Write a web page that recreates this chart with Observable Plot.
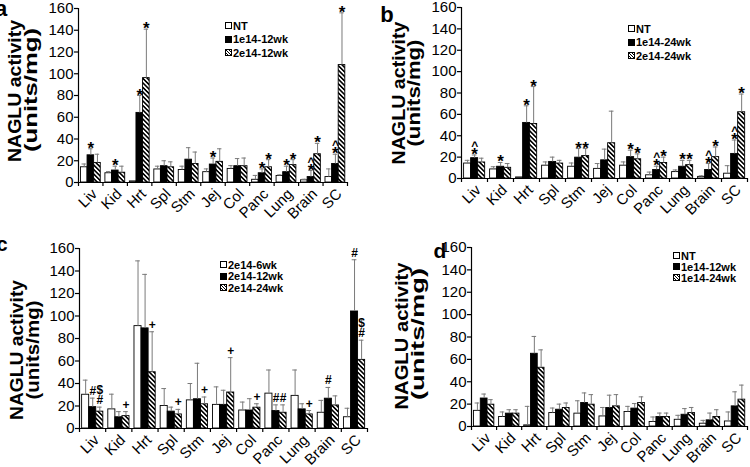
<!DOCTYPE html>
<html><head><meta charset="utf-8">
<script src="https://cdn.jsdelivr.net/npm/d3@7"></script>
<script src="https://cdn.jsdelivr.net/npm/@observablehq/plot@0.6"></script>
<style>
body{margin:0;background:#fff;}
#wrap{position:relative;width:750px;height:467px;overflow:hidden;font-family:"Liberation Sans",Arial,sans-serif;background:#fff;}
.panel{position:absolute;}
.legend{position:absolute;font:bold 11px "Liberation Sans",Arial,sans-serif;color:#000;}
.legend .row{display:flex;align-items:center;white-space:nowrap;}
.sw{width:5px;height:5px;border:1px solid #000;margin-right:1px;flex:none;}
.sw0{background:#fff;}
.sw1{background:#000;}
.sw2{background:repeating-linear-gradient(45deg,#fff 0 1px,#000 1px 2px);}
</style></head>
<body>
<svg width="0" height="0" style="position:absolute">
  <defs>
    <pattern id="hatch" patternUnits="userSpaceOnUse" width="3.2" height="3.2" patternTransform="rotate(-45)">
      <rect width="3.2" height="3.2" fill="white"/><rect width="1.6" height="3.2" fill="black"/>
    </pattern>
  </defs>
</svg>
<div id="wrap"></div>
<script>
const categories = ["Liv","Kid","Hrt","Spl","Stm","Jej","Col","Panc","Lung","Brain","SC"];
const yTicks = [0,20,40,60,80,100,120,140,160];

// Panel a
const seriesA = ["NT","1e14-12wk","2e14-12wk"];
const meanA_NT   = [14, 8.5, 1, 12, 11.5, 9.5, 12.5, 2.5, 6, 2, 5];
const sdA_NT     = [3, 1.5, 0, 3, 3.5, 3, 3, 4, 1, 1, 7.5];
const meanA_1e14 = [25, 11, 64, 15, 21, 16.5, 15, 8.5, 9.5, 5, 17];
const sdA_1e14   = [6, 4, 16, 5, 11, 6, 7, 4, 5.5, 6, 9];
const meanA_2e14 = [18, 9, 96, 14, 17, 19, 15, 14, 16, 26, 108];
const sdA_2e14   = [8, 6, 45, 5, 11, 12, 7.5, 7, 5, 10, 48];
const annA = [["Liv",1,"*",0],["Kid",1,"*",0],["Hrt",1,"*",0],["Hrt",2,"*",0],["Jej",1,"*",0],
  ["Panc",1,"*",0],["Panc",2,"*",0],["Lung",1,"*",0],["Lung",2,"*",0],
  ["Brain",1,"*",0],["Brain",1,"^",1],["Brain",2,"*",0],["SC",1,"*",0],["SC",1,"^",1],["SC",2,"*",0]];

// Panel b
const seriesB = ["NT","1e14-24wk","2e14-24wk"];
const meanB_NT   = [14, 8.5, 1, 12, 11, 9, 12, 3, 6, 1.5, 4.5];
const sdB_NT     = [3, 2.5, 0, 3.5, 3.5, 5, 3.5, 3, 2, 1, 7.5];
const meanB_1e14 = [19, 11, 52, 15.5, 19.5, 17, 20, 8, 11, 8, 23];
const sdB_1e14   = [3, 4, 16, 4.5, 8.5, 10.5, 6.5, 3.5, 6, 6, 13];
const meanB_2e14 = [15, 10, 51, 14, 21, 33, 18, 14.5, 12.5, 20, 62];
const sdB_2e14   = [4, 4, 35, 3, 7, 30, 5, 5.5, 4.5, 9.5, 17];
const annB = [["Liv",1,"*",0],["Liv",1,"^",1],["Kid",1,"*",0],["Hrt",1,"*",0],["Hrt",2,"*",0],
  ["Stm",1,"*",0],["Stm",2,"*",0],["Col",1,"*",0],["Col",2,"*",0],
  ["Panc",1,"*",0],["Panc",1,"^",1],["Panc",2,"*",0],["Lung",1,"*",0],["Lung",2,"*",0],
  ["Brain",1,"*",0],["Brain",1,"^",1],["Brain",2,"*",0],["SC",1,"*",0],["SC",1,"^",1],["SC",2,"*",0]];

// Panel c
const seriesC = ["2e14-6wk","2e14-12wk","2e14-24wk"];
const meanC_6wk  = [30, 17, 91, 20, 25, 21, 16, 31, 29, 14, 10];
const sdC_6wk    = [13, 13.5, 58, 15.5, 15, 16, 7.5, 21, 23, 11, 8];
const meanC_12wk = [19, 10, 89, 15, 26, 21, 16, 15.5, 17, 26.5, 104];
const sdC_12wk   = [8, 5, 48, 4, 32, 13, 10.5, 5.5, 5, 10, 46];
const meanC_24wk = [15, 11, 50, 12.5, 21.5, 32, 18.5, 14, 12.5, 20.5, 61];
const sdC_24wk   = [4, 4, 36, 4.5, 6.5, 31, 3.5, 7, 3.5, 8.5, 17.5];
const annC = [["Liv",1,"#",0],["Liv",2,"#",0],["Liv",2,"$",1],["Kid",2,"+",0],["Hrt",2,"+",0],
  ["Spl",2,"+",0],["Stm",2,"+",0],["Jej",2,"+",0],["Col",2,"+",0],["Panc",1,"#",0],["Panc",2,"#",0],
  ["Lung",2,"+",0],["Brain",1,"#",0],["SC",1,"#",0],["SC",2,"#",0],["SC",2,"$",1]];

// Panel d
const seriesD = ["NT","1e14-12wk","1e14-24wk"];
const meanD_NT   = [14, 8.5, 1, 12, 11.5, 9, 13, 4, 6, 2.5, 4.5];
const sdD_NT     = [7, 4.5, 17, 4.5, 11.5, 8, 5, 4.5, 4, 3, 8.5];
const meanD_12wk = [25, 11.5, 65, 15, 21, 16.5, 16, 8.5, 10.5, 5.5, 18];
const sdD_12wk   = [4, 3.5, 15.5, 5, 9, 11.5, 4.5, 3.5, 5.5, 6.5, 13];
const meanD_24wk = [19.5, 11.5, 52.5, 16.5, 19.5, 18, 21, 8.5, 12, 8.5, 24];
const sdD_24wk   = [4.5, 3.5, 16, 4.5, 9, 10.5, 5.5, 3.5, 5, 6.5, 13];
const annD = [];

const panels = [
  {id:"a", left:0, top:0, height:233, m:[8,28,51,78], series:seriesA,
   means:[meanA_NT,meanA_1e14,meanA_2e14], sds:[sdA_NT,sdA_1e14,sdA_2e14], ann:annA,
   letter:{x:1,y:16,size:22}, lab:[{x:21,y:91,len:142},{x:37,y:90,len:124}],
   legend:{x:225,y:19,h:13.5}},
  {id:"b", left:375, top:0, height:233, m:[7,3,55,86], series:seriesB,
   means:[meanB_NT,meanB_1e14,meanB_2e14], sds:[sdB_NT,sdB_1e14,sdB_2e14], ann:annB,
   letter:{x:12,y:22,size:22}, lab:[{x:30,y:93,len:143},{x:45,y:93,len:107}],
   legend:{x:253,y:22,h:13.5}},
  {id:"c", left:0, top:233, height:234, m:[15,8,39,79], series:seriesC,
   means:[meanC_6wk,meanC_12wk,meanC_24wk], sds:[sdC_6wk,sdC_12wk,sdC_24wk], ann:annC,
   letter:{x:2,y:18,size:20}, lab:[{x:23,y:117,len:140},{x:39,y:117,len:99}],
   legend:{x:220,y:26,h:11.5}},
  {id:"d", left:375, top:233, height:234, m:[14,3,41,96], series:seriesD,
   means:[meanD_NT,meanD_12wk,meanD_24wk], sds:[sdD_NT,sdD_12wk,sdD_24wk], ann:annD,
   letter:{x:65,y:25,size:21}, lab:[{x:33,y:103,len:147},{x:49,y:101,len:132}],
   legend:{x:298,y:17,h:11}}
];

const G = 0.1, W = 0.27, CAP = 0.09;
const fills = ["white","black","url(#hatch)"];
const wrap = document.getElementById("wrap");

panels.forEach((p) => {
  const rows = [];
  p.series.forEach((name, s) => p.means[s].forEach((m, i) =>
    rows.push({cat: categories[i], i, s, name, mean: m, top: m + p.sds[s][i]})));
  const xc = d => d.i + G + (d.s + 0.5) * W;
  const errs = rows.filter(d => d.top > d.mean);
  const ann = p.ann.map(([cat, s, sym, level]) => {
    const r = rows.find(d => d.cat === cat && d.s === s);
    const star = sym === "*" || sym === "^";
    const dy = star ? (level === 0 ? 5 : -5) : (level === 0 ? -3 : -13);
    return {i: r.i, s, top: r.top, sym, dy, size: sym === "*" ? 17 : 12};
  });
  const dys = [...new Set(ann.map(d => d.dy))];
  const marks = [];
  p.series.forEach((name, s) => {
    marks.push(Plot.rectY(rows.filter(d => d.s === s), {
      x1: d => d.i + G + d.s * W, x2: d => d.i + G + (d.s + 1) * W,
      y1: 0, y2: "mean", fill: fills[s], stroke: "black", strokeWidth: 0.9}));
  });
  marks.push(
    Plot.ruleX(errs, {x: xc, y1: "top", y2: "mean", stroke: "#7a7a7a", strokeWidth: 1}),
    Plot.ruleY(errs, {x1: d => xc(d) - CAP, x2: d => xc(d) + CAP, y: "top", stroke: "#7a7a7a", strokeWidth: 1}),
    Plot.ruleX([0], {stroke: "black", strokeWidth: 1.2}),
    Plot.ruleY([0], {stroke: "black", strokeWidth: 1.2}),
    Plot.axisY({ticks: yTicks, tickSize: 4, tickPadding: 1, fontSize: 15, label: null, tickFormat: d => d, strokeWidth: 1.2}),
    Plot.axisX({ticks: d3.range(0, 12), tickSize: 4, tickFormat: () => "", label: null, strokeWidth: 1.2}),
    Plot.text(categories, {x: (d, i) => i + 0.5, y: 0, text: d => d, rotate: -45, textAnchor: "end",
      lineAnchor: "middle", dx: 4, dy: 9, fontSize: 15, fill: "black"})
  );
  for (const dy of dys) {
    const sub = ann.filter(d => d.dy === dy);
    marks.push(Plot.text(sub, {x: xc, y: "top", text: "sym", dy, lineAnchor: "bottom",
      fontWeight: "bold", fontSize: d => d.size, fill: "black"}));
  }
  const chart = Plot.plot({
    width: 375, height: p.height,
    marginTop: p.m[0], marginRight: p.m[1], marginBottom: p.m[2], marginLeft: p.m[3],
    x: {domain: [0, 11], axis: null},
    y: {domain: [0, 160], axis: null},
    style: {fontFamily: "Liberation Sans, Arial, sans-serif", color: "black", background: "transparent", overflow: "visible"},
    marks
  });
  const div = document.createElement("div");
  div.className = "panel";
  div.style.left = p.left + "px"; div.style.top = p.top + "px";
  div.appendChild(chart);
  wrap.appendChild(div);
  const svg = d3.select(chart);
  svg.append("text").attr("x", p.letter.x).attr("y", p.letter.y)
    .attr("font-size", p.letter.size).attr("font-weight", "bold").attr("fill", "black")
    .text(p.id);
  const labTexts = ["NAGLU activity", "(units/mg)"];
  p.lab.forEach((l, k) => {
    svg.append("text").attr("transform", `translate(${l.x},${l.y}) rotate(-90)`)
      .attr("text-anchor", "middle").attr("font-size", 19).attr("font-weight", "bold")
      .attr("fill", "black").attr("textLength", l.len).attr("lengthAdjust", "spacingAndGlyphs")
      .text(labTexts[k]);
  });
  const lg = document.createElement("div");
  lg.className = "legend";
  lg.style.left = (p.left + p.legend.x) + "px";
  lg.style.top = (p.top + p.legend.y) + "px";
  p.series.forEach((name, s) => {
    const row = document.createElement("div");
    row.className = "row";
    row.style.height = p.legend.h + "px";
    row.innerHTML = `<span class="sw sw${s}"></span><span>${name}</span>`;
    lg.appendChild(row);
  });
  wrap.appendChild(lg);
});
</script>
</body></html>
